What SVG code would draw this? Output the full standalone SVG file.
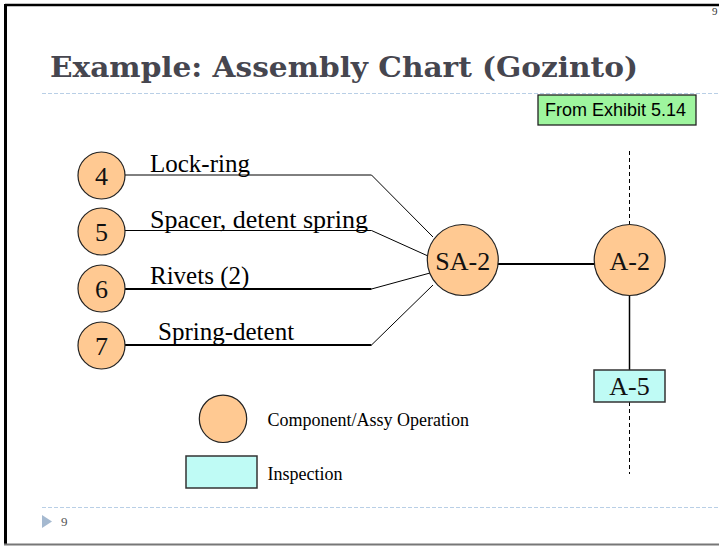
<svg xmlns="http://www.w3.org/2000/svg" width="719" height="546" viewBox="0 0 719 546">
<style>
.op{fill:#ffc992;stroke:#222;stroke-width:1.2}
.insp{fill:#bffbf5;stroke:#333;stroke-width:1.5}
.lbl{font-family:"Liberation Serif","Times New Roman",serif;font-size:25px;fill:#000}
.num{font-family:"Liberation Serif","Times New Roman",serif;font-size:26px;fill:#111;text-anchor:middle}
.leg{font-family:"Liberation Serif","Times New Roman",serif;font-size:18px;fill:#000}
.c{fill:none;stroke:#000}
.guide{fill:none;stroke:#b9cfe6;stroke-width:1.2;stroke-dasharray:4 2}
</style>
<rect x="0" y="0" width="719" height="546" fill="#fff"/>
<!-- slide frame -->
<line x1="5" y1="5" x2="719" y2="5" stroke="#000" stroke-width="2.5"/>
<line x1="5.5" y1="4" x2="5.5" y2="544" stroke="#000" stroke-width="3"/>
<line x1="4" y1="544.5" x2="719" y2="544.5" stroke="#777" stroke-width="2"/>
<text x="712" y="15" font-family="Liberation Serif, serif" font-size="11" fill="#333">9</text>
<!-- title -->
<text x="50" y="77" font-family="DejaVu Serif, serif" font-weight="bold" font-size="28" fill="#46464f" textLength="588" lengthAdjust="spacingAndGlyphs">Example: Assembly Chart (Gozinto)</text>
<line class="guide" x1="42" y1="93.5" x2="719" y2="93.5"/>
<line class="guide" x1="42" y1="507.5" x2="719" y2="507.5"/>
<polygon points="42,515 52,521.5 42,528" fill="#a5b9d0"/>
<text x="61" y="526" font-family="Liberation Serif, serif" font-size="13" fill="#555">9</text>
<!-- source box -->
<g id="source">
<rect x="538" y="95" width="158" height="30" fill="#9ef59e" stroke="#222" stroke-width="1.3"/>
<text x="615.5" y="116" font-family="Liberation Sans, Arial, sans-serif" font-size="17.5" fill="#000" text-anchor="middle" textLength="141" lengthAdjust="spacingAndGlyphs">From Exhibit 5.14</text>
</g>
<!-- connectors -->
<g id="connectors">
<polyline class="c" stroke-width="1" points="125,175 371.5,175 433,237"/>
<polyline class="c" stroke-width="1" points="125,230.5 371.5,230.5 428,256"/>
<polyline class="c" stroke-width="1" points="371.5,289 430,273"/>
<line class="c" stroke-width="2" x1="125" y1="289" x2="371.5" y2="289"/>
<line class="c" stroke-width="2" x1="125" y1="345" x2="371.5" y2="345"/>
<line class="c" stroke-width="1" x1="371.5" y1="345" x2="433" y2="285"/>
<line class="c" stroke-width="2.2" x1="498" y1="264" x2="594" y2="264"/>
<line class="c" stroke-width="1.5" x1="629.5" y1="296" x2="629.5" y2="370"/>
<line class="c" stroke-width="1" stroke-dasharray="4 3" x1="629.5" y1="151" x2="629.5" y2="224"/>
<line class="c" stroke-width="1" stroke-dasharray="4 3" x1="629.5" y1="402" x2="629.5" y2="474"/>
</g>
<!-- component nodes -->
<g id="n4"><circle class="op" cx="101.5" cy="175.5" r="23.5"/><text class="num" x="101.5" y="185">4</text></g>
<g id="n5"><circle class="op" cx="101.5" cy="231.5" r="23.5"/><text class="num" x="101.5" y="241">5</text></g>
<g id="n6"><circle class="op" cx="101.5" cy="288.5" r="23.5"/><text class="num" x="101.5" y="298">6</text></g>
<g id="n7"><circle class="op" cx="101.5" cy="345.5" r="23.5"/><text class="num" x="101.5" y="355">7</text></g>
<text class="lbl" x="150" y="172">Lock-ring</text>
<text class="lbl" x="150" y="228" textLength="218" lengthAdjust="spacingAndGlyphs">Spacer, detent spring</text>
<text class="lbl" x="150" y="284">Rivets (2)</text>
<text class="lbl" x="158" y="340">Spring-detent</text>
<g id="sa2"><circle class="op" cx="462.8" cy="260" r="35.5"/><text class="num" x="462.8" y="269.5">SA-2</text></g>
<g id="a2"><circle class="op" cx="629.7" cy="260" r="35.5"/><text class="num" x="629.7" y="269.5">A-2</text></g>
<g id="a5"><rect class="insp" x="594" y="370" width="71" height="32"/><text class="num" x="629.5" y="395">A-5</text></g>
<!-- legend -->
<g id="legend-op"><circle class="op" cx="223" cy="418.8" r="23.7"/><text class="leg" x="267.5" y="426">Component/Assy Operation</text></g>
<g id="legend-insp"><rect class="insp" x="186" y="456" width="71" height="32"/><text class="leg" x="267.5" y="479.5">Inspection</text></g>
</svg>
